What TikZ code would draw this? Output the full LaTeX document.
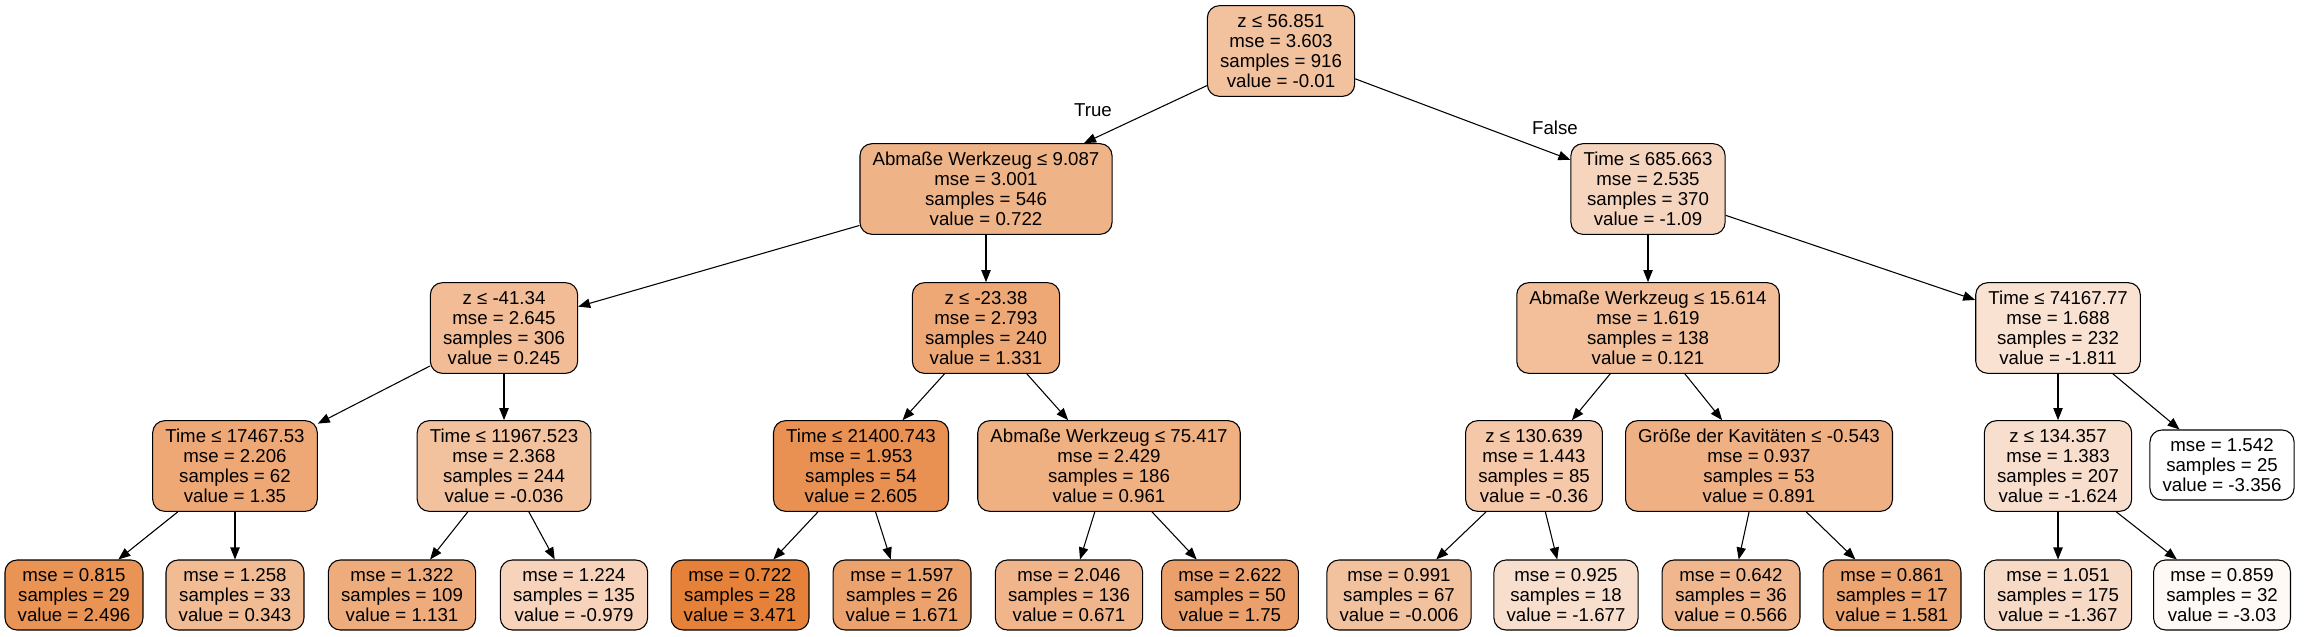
\documentclass[tikz,border=0pt]{standalone}
\usepackage{fontspec}
\setmainfont{Liberation Sans}
\usetikzlibrary{arrows.meta}

\definecolor{treeorange}{RGB}{229,129,57}

\tikzset{
	splitbox/.style = {draw, line width = 0.8pt, rounded corners = 9pt, align = center, inner xsep = 9.5pt, inner ysep = 0pt, minimum height = 68pt, font = \fontsize{14pt}{15pt}\selectfont},
	leafbox/.style = {splitbox, minimum height = 52.5pt}
}

\begin{document}
\begin{tikzpicture}[x = 0.75pt, y = -0.75pt, > = {Triangle[length = 9pt, width = 7pt]}, line width = 0.8pt]

\useasboundingbox (0, 0) rectangle (2304, 636);

% Root

\node [splitbox, fill = treeorange!49!white] (root) at (1281, 51) {z ≤ 56.851\\mse = 3.603\\samples = 916\\value = -0.01};

% Level 1

\node [splitbox, fill = treeorange!60!white] (abm9) at (986, 189) {Abmaße Werkzeug ≤ 9.087\\mse = 3.001\\samples = 546\\value = 0.722};
\node [splitbox, fill = treeorange!33!white] (time685) at (1648, 189) {Time ≤ 685.663\\mse = 2.535\\samples = 370\\value = -1.09};

% Level 2

\node [splitbox, fill = treeorange!53!white] (z41) at (504, 328) {z ≤ -41.34\\mse = 2.645\\samples = 306\\value = 0.245};
\node [splitbox, fill = treeorange!69!white] (z23) at (986, 328) {z ≤ -23.38\\mse = 2.793\\samples = 240\\value = 1.331};
\node [splitbox, fill = treeorange!51!white] (abm15) at (1648, 328) {Abmaße Werkzeug ≤ 15.614\\mse = 1.619\\samples = 138\\value = 0.121};
\node [splitbox, fill = treeorange!23!white] (time74167) at (2058, 328) {Time ≤ 74167.77\\mse = 1.688\\samples = 232\\value = -1.811};

% Level 3

\node [splitbox, fill = treeorange!69!white] (time17467) at (235, 466) {Time ≤ 17467.53\\mse = 2.206\\samples = 62\\value = 1.35};
\node [splitbox, fill = treeorange!49!white] (time11967) at (504, 466) {Time ≤ 11967.523\\mse = 2.368\\samples = 244\\value = -0.036};
\node [splitbox, fill = treeorange!87!white] (time21400) at (861, 466) {Time ≤ 21400.743\\mse = 1.953\\samples = 54\\value = 2.605};
\node [splitbox, fill = treeorange!63!white] (abm75) at (1109, 466) {Abmaße Werkzeug ≤ 75.417\\mse = 2.429\\samples = 186\\value = 0.961};
\node [splitbox, fill = treeorange!44!white] (z130) at (1534, 466) {z ≤ 130.639\\mse = 1.443\\samples = 85\\value = -0.36};
\node [splitbox, fill = treeorange!62!white] (kav) at (1759, 466) {Größe der Kavitäten ≤ -0.543\\mse = 0.937\\samples = 53\\value = 0.891};
\node [splitbox, fill = treeorange!25!white] (z134) at (2058, 466) {z ≤ 134.357\\mse = 1.383\\samples = 207\\value = -1.624};
\node [leafbox, fill = white] (leafN) at (2222, 465) {mse = 1.542\\samples = 25\\value = -3.356};

% Leaves

\node [leafbox, fill = treeorange!86!white] (leafA) at (74, 595) {mse = 0.815\\samples = 29\\value = 2.496};
\node [leafbox, fill = treeorange!54!white] (leafB) at (235, 595) {mse = 1.258\\samples = 33\\value = 0.343};
\node [leafbox, fill = treeorange!66!white] (leafC) at (402, 595) {mse = 1.322\\samples = 109\\value = 1.131};
\node [leafbox, fill = treeorange!35!white] (leafD) at (574, 595) {mse = 1.224\\samples = 135\\value = -0.979};
\node [leafbox, fill = treeorange] (leafE) at (740, 595) {mse = 0.722\\samples = 28\\value = 3.471};
\node [leafbox, fill = treeorange!74!white] (leafF) at (902, 595) {mse = 1.597\\samples = 26\\value = 1.671};
\node [leafbox, fill = treeorange!59!white] (leafG) at (1069, 595) {mse = 2.046\\samples = 136\\value = 0.671};
\node [leafbox, fill = treeorange!75!white] (leafH) at (1230, 595) {mse = 2.622\\samples = 50\\value = 1.75};
\node [leafbox, fill = treeorange!49!white] (leafI) at (1399, 595) {mse = 0.991\\samples = 67\\value = -0.006};
\node [leafbox, fill = treeorange!25!white] (leafJ) at (1566, 595) {mse = 0.925\\samples = 18\\value = -1.677};
\node [leafbox, fill = treeorange!57!white] (leafK) at (1731, 595) {mse = 0.642\\samples = 36\\value = 0.566};
\node [leafbox, fill = treeorange!72!white] (leafL) at (1892, 595) {mse = 0.861\\samples = 17\\value = 1.581};
\node [leafbox, fill = treeorange!29!white] (leafM) at (2058, 595) {mse = 1.051\\samples = 175\\value = -1.367};
\node [leafbox, fill = treeorange!5!white] (leafO) at (2222, 595) {mse = 0.859\\samples = 32\\value = -3.03};

% Edges

\foreach \a/\b in {root/abm9, root/time685, abm9/z41, abm9/z23, time685/abm15, time685/time74167,
	z41/time17467, z41/time11967, z23/time21400, z23/abm75, abm15/z130, abm15/kav, time74167/z134, time74167/leafN,
	time17467/leafA, time17467/leafB, time11967/leafC, time11967/leafD, time21400/leafE, time21400/leafF,
	abm75/leafG, abm75/leafH, z130/leafI, z130/leafJ, kav/leafK, kav/leafL, z134/leafM, z134/leafO}
	\draw [->] (\a) -- (\b);

% Edge labels

\node [font = \fontsize{14pt}{15pt}\selectfont] (lbltrue) at (1093, 110) {True};
\node [font = \fontsize{14pt}{15pt}\selectfont] (lblfalse) at (1555, 128) {False};

\end{tikzpicture}
\end{document}
